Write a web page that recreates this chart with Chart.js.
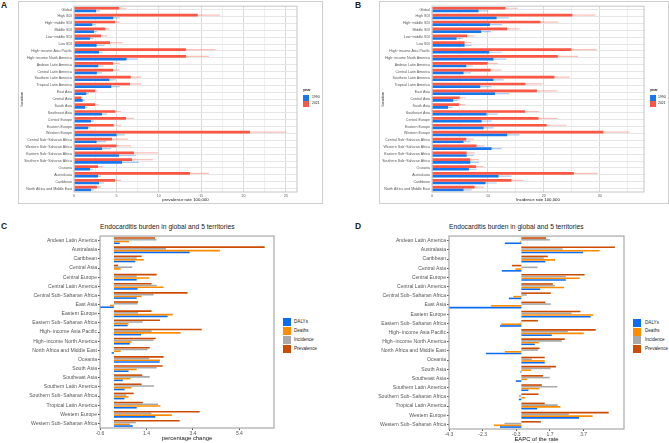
<!DOCTYPE html>
<html>
<head>
<meta charset="utf-8">
<title>Endocarditis burden</title>
<script src="https://cdn.jsdelivr.net/npm/chart.js@4"></script>
<style>
  html, body { margin: 0; padding: 0; background: #fff; }
  body { width: 669px; height: 443px; position: relative; overflow: hidden; font-family: "Liberation Sans", Arial, sans-serif; }
  canvas { position: absolute; }
  .frame { position: absolute; border: 1px solid #cfcfcf; box-sizing: border-box; }
  .txt { position: absolute; white-space: nowrap; line-height: 1; color: #222; }
  .swatch { position: absolute; }
</style>
</head>
<body>
<script>
// location lists
const sdiRegions = ['Global', 'High SDI', 'High\u2212middle SDI', 'Middle SDI', 'Low\u2212middle SDI', 'Low SDI',
  'High\u2212income Asia Pacific', 'High\u2212income North America', 'Andean Latin America', 'Central Latin America',
  'Southern Latin America', 'Tropical Latin America', 'East Asia', 'Central Asia', 'South Asia', 'Southeast Asia',
  'Central Europe', 'Eastern Europe', 'Western Europe', 'Central Sub\u2212Saharan Africa', 'Western Sub\u2212Saharan Africa',
  'Eastern Sub\u2212Saharan Africa', 'Southern Sub\u2212Saharan Africa', 'Oceania', 'Australasia', 'Caribbean',
  'North Africa and Middle East']
const territories = ['Andean Latin America', 'Australasia', 'Caribbean', 'Central Asia', 'Central Europe',
  'Central Latin America', 'Central Sub\u2212Saharan Africa', 'East Asia', 'Eastern Europe', 'Eastern Sub\u2212Saharan Africa',
  'High\u2212income Asia Pacific', 'High\u2212income North America', 'North Africa and Middle East', 'Oceania', 'South Asia',
  'Southeast Asia', 'Southern Latin America', 'Southern Sub\u2212Saharan Africa', 'Tropical Latin America', 'Western Europe',
  'Western Sub\u2212Saharan Africa']

// panel A, prevalence rate
const prev2021 = [5.35, 14.6, 4.83, 3.7, 3.18, 4.25, 13.2, 13.2, 4.6, 4.6, 6.7, 6.6, 2.48, 0.86, 2.48, 4.9, 6.13, 4.68, 20.75, 4.48, 5.03, 7.07, 6.84, 2.83, 13.68, 4.83, 2.71]
const prev2021Upper = [6.2, 17.2, 5.4, 4.25, 3.9, 5.74, 16.7, 15.9, 5.4, 5.4, 7.9, 7.9, 2.83, 1.0, 2.9, 5.54, 7.07, 5.54, 25.0, 6.37, 6.72, 9.9, 9.3, 3.42, 15.9, 5.54, 3.18]
const prev1990 = [2.6, 4.64, 2.16, 2.36, 1.89, 2.67, 2.95, 6.2, 2.87, 2.7, 4.17, 4.4, 1.45, 1.02, 1.3, 3.3, 2.0, 1.65, 5.03, 2.67, 3.3, 5.3, 5.66, 1.89, 2.83, 2.95, 2.0]
const prev1990Upper = [3.07, 5.4, 2.55, 2.75, 2.28, 3.6, 3.4, 7.5, 3.5, 3.3, 4.9, 5.4, 1.73, 1.26, 1.57, 3.9, 2.36, 1.93, 6.0, 3.77, 4.36, 7.3, 7.67, 2.24, 3.18, 3.54, 2.36]

// panel B, incidence rate
const inc2021 = [13.15, 25.1, 19.4, 13.45, 6.3, 5.83, 24.94, 22.5, 9.94, 10.5, 21.9, 16.7, 18.75, 4.94, 4.82, 16.67, 19.05, 20.5, 30.65, 6.13, 7.98, 6.2, 6.85, 7.86, 25.36, 14.2, 7.62]
const inc2021Upper = [15.36, 29.2, 22.6, 15.65, 7.56, 7.08, 29.4, 26.1, 11.8, 12.4, 24.6, 19.7, 22.44, 6.0, 5.95, 19.2, 22.44, 24.05, 35.3, 7.44, 9.4, 7.62, 8.33, 9.23, 29.6, 16.4, 9.23]
const inc1990 = [8.33, 11.55, 10.36, 8.8, 4.4, 5.83, 10.24, 11.0, 6.13, 5.65, 11.0, 8.63, 11.25, 3.8, 2.86, 9.76, 8.87, 9.23, 13.45, 5.65, 10.65, 6.2, 6.85, 6.6, 11.9, 9.58, 5.65]
const inc1990Upper = [10.1, 13.7, 12.5, 10.6, 5.48, 7.08, 12.44, 13.3, 7.3, 6.96, 12.8, 10.65, 13.8, 4.76, 3.7, 11.73, 10.65, 11.0, 15.65, 6.9, 12.44, 7.44, 8.4, 7.98, 14.2, 11.55, 7.08]

// panel C, percentage change
const pctPrevalence = [1.77, 6.49, 1.19, 0.18, 1.84, 1.62, 3.17, 1.04, 1.62, 1.98, 3.78, 1.8, 1.54, 2.14, 2.1, 1.22, 1.19, 0.85, 1.24, 3.69, 2.83]
const pctIncidence = [1.83, 2.24, 0.98, 0.79, 0.98, 1.84, 1.71, 1.02, 1.04, 1.24, 1.62, 1.7, 1.45, 1.52, 1.84, 1.54, 1.73, 0.53, 1.9, 1.61, 0.94]
const pctDeaths = [0.65, 4.57, 1.29, 0.29, 1.52, 2.14, 1.19, -0.17, 2.53, 0.63, 2.87, 0.76, 0.29, 1.98, 0.98, 0.71, 0.76, 0.63, 2.0, 2.49, 0.68]
const pctDalys = [0.25, 3.26, 0.92, 0, 0.98, 1.02, 0.98, -0.6, 2.31, 0.59, 1.17, 0.68, -0.1, 1.97, 0.63, 0.38, 0.46, 0.45, 0.98, 1.78, 0.81]

// panel D, EAPC
const eapcPrevalence = [1.47, 5.56, 1.57, -0.56, 3.76, 1.87, 1.75, 1.43, 3.51, 0.98, 4.42, 2.58, 1.08, 1.39, 2.05, 1.29, 1.22, 1.02, 1.39, 5.19, 1.16]
const eapcIncidence = [1.69, 2.46, 1.33, 0.96, 2.64, 1.99, 0.33, 1.75, 2.99, -0.05, 2.76, 2.4, 1.0, 0.62, 1.75, 1.69, 2.14, -0.15, 2.16, 2.82, -1.0]
const eapcDeaths = [-0.07, 4.65, 2.0, -0.35, 3.47, 2.54, -0.48, -1.81, 4.28, -1.2, 3.71, 1.04, -0.98, 1.39, 0.58, 0.33, 1.08, 0.21, 2.32, 4.24, -1.63]
const eapcDalys = [-0.98, 3.67, 1.43, -1.16, 2.64, 1.12, -0.74, -4.3, 4.12, -1.27, 1.81, 0.8, -2.1, 1.39, -0.05, -0.33, 0.42, -0.15, 0.94, 3.43, -1.27]

// tick labels
const prevTicks = [0, 2.5, 5, 7.5, 10, 12.5, 15, 17.5, 20, 22.5, 25]
const prevLabelled = [0, 5, 10, 15, 20, 25]
const incTicks = [0, 5, 10, 15, 20, 25, 30, 35]
const incLabelled = [0, 10, 20, 30]
const pctTicks = [-0.6, 1.4, 3.4, 5.4]
const eapcTicks = [-4.3, -2.3, -0.3, 1.7, 3.7]

const yearNames = ['1990', '2021']
const burdenNames = ['DALYs', 'Deaths', 'Incidence', 'Prevalence']

const FONT = '"Liberation Sans", Arial, sans-serif'
const BLUE = '#1677ee'
const RED = '#fb5744'
const burdenColors = ['#0a6cf0', '#ff8c00', '#a9a9a9', '#cc4c02']

Chart.defaults.font.family = FONT
Chart.defaults.animation = false

const boxPlugin = {
  id: 'plotBox',
  afterDraw(chart, args, opts) {
    const a = chart.chartArea
    const ctx = chart.ctx
    ctx.save()
    ctx.strokeStyle = opts.color
    ctx.lineWidth = opts.width
    ctx.strokeRect(a.left, a.top, a.right - a.left, a.bottom - a.top)
    ctx.restore()
  }
}
Chart.register(boxPlugin)

function addCanvas(box) {
  const c = document.createElement('canvas')
  c.style.left = box.x + 'px'
  c.style.top = box.y + 'px'
  c.style.width = box.w + 'px'
  c.style.height = box.h + 'px'
  c.width = box.w
  c.height = box.h
  document.body.appendChild(c)
  return c.getContext('2d')
}

function addText(s, x, y, size, opts) {
  const d = document.createElement('div')
  d.className = 'txt'
  d.textContent = s
  d.style.left = x + 'px'
  d.style.top = y + 'px'
  d.style.fontSize = size + 'px'
  if (opts && opts.bold) d.style.fontWeight = 'bold'
  document.body.appendChild(d)
}

function addSwatch(x, y, w, h, color) {
  const d = document.createElement('div')
  d.className = 'swatch'
  d.style.cssText = `left:${x}px;top:${y}px;width:${w}px;height:${h}px;background:${color}`
  document.body.appendChild(d)
}

function addFrame(x, y, w, h) {
  const d = document.createElement('div')
  d.className = 'frame'
  d.style.cssText = `left:${x}px;top:${y}px;width:${w}px;height:${h}px`
  document.body.appendChild(d)
}

// panels A and B: rate by year with pale upper interval
function rateChart(box, cfg) {
  const pale = (vals, upper) => vals.map((v, i) => [v, upper[i]])
  new Chart(addCanvas(box), {
    type: 'bar',
    data: {
      labels: sdiRegions,
      datasets: [
        { data: cfg.val2021, backgroundColor: RED, stack: 'y2021', categoryPercentage: 0.78, barPercentage: 1 },
        { data: pale(cfg.val2021, cfg.up2021), backgroundColor: 'rgba(251,87,68,0.38)', stack: 'y2021', categoryPercentage: 0.78, barPercentage: 0.45 },
        { data: cfg.val1990, backgroundColor: BLUE, stack: 'y1990', categoryPercentage: 0.78, barPercentage: 1 },
        { data: pale(cfg.val1990, cfg.up1990), backgroundColor: 'rgba(22,119,238,0.38)', stack: 'y1990', categoryPercentage: 0.78, barPercentage: 0.45 }
      ]
    },
    options: {
      indexAxis: 'y',
      responsive: false,
      layout: { padding: cfg.padding },
      plugins: { legend: { display: false }, tooltip: { enabled: false }, plotBox: { color: '#c4c4c4', width: 1 } },
      scales: {
        x: {
          stacked: false,
          min: 0,
          max: cfg.max,
          afterBuildTicks: s => { s.ticks = cfg.ticks.map(v => ({ value: v })) },
          afterFit: s => { s.height = cfg.xHeight },
          grid: {
            color: c => cfg.labelled.includes(c.tick.value) ? '#d9d9d9' : '#efefef',
            drawTicks: false
          },
          border: { display: false },
          ticks: {
            autoSkip: false, maxRotation: 0, padding: 2, color: '#555',
            font: { size: 3.6 },
            callback: v => cfg.labelled.includes(v) ? String(v) : ''
          },
          title: { display: true, text: cfg.xTitle, color: '#111', font: { size: 4.3 }, padding: 0 }
        },
        y: {
          stacked: true,
          afterFit: s => { s.width = cfg.yWidth },
          grid: { offset: false, color: '#e6e6e6', drawTicks: false },
          border: { display: false },
          ticks: { autoSkip: false, padding: 2, color: '#555', font: { size: 3.6 } },
          title: { display: true, text: 'location', color: '#222', font: { size: 4.3 }, padding: 0 }
        }
      }
    }
  })
}

// panels C and D: four measures per territory
function burdenChart(box, cfg) {
  new Chart(addCanvas(box), {
    type: 'bar',
    data: {
      labels: territories,
      datasets: [
        { label: 'Prevalence', data: cfg.prevalence, backgroundColor: burdenColors[3] },
        { label: 'Incidence', data: cfg.incidence, backgroundColor: burdenColors[2] },
        { label: 'Deaths', data: cfg.deaths, backgroundColor: burdenColors[1] },
        { label: 'DALYs', data: cfg.dalys, backgroundColor: burdenColors[0] }
      ]
    },
    options: {
      indexAxis: 'y',
      responsive: false,
      layout: { padding: cfg.padding },
      datasets: { bar: { categoryPercentage: 0.76, barPercentage: 0.92 } },
      plugins: { legend: { display: false }, tooltip: { enabled: false }, plotBox: { color: '#a8a8a8', width: 1.2 } },
      scales: {
        x: {
          min: cfg.min,
          max: cfg.max,
          afterBuildTicks: s => { s.ticks = cfg.ticks.map(v => ({ value: v })) },
          afterFit: s => { s.height = cfg.xHeight },
          grid: { drawOnChartArea: false, tickLength: 2, color: '#555' },
          border: { display: false },
          ticks: { autoSkip: false, maxRotation: 0, padding: 1, color: '#555', font: { size: 5 } },
          title: { display: true, text: cfg.xTitle, color: '#111', font: { size: 5.9 }, padding: 0 }
        },
        y: {
          afterFit: s => { s.width = cfg.yWidth },
          grid: { drawOnChartArea: false, tickLength: 2, color: '#555', offset: false },
          border: { display: false },
          ticks: { autoSkip: false, padding: 1, color: '#555', font: { size: 5.1 } }
        }
      }
    }
  })
}

addFrame(18, 1, 305, 203)
addFrame(379, 1, 290, 203)

rateChart({ x: 19, y: 2, w: 303, h: 201 }, {
  val2021: prev2021, up2021: prev2021Upper, val1990: prev1990, up1990: prev1990Upper,
  max: 26.3, ticks: prevTicks, labelled: prevLabelled, xTitle: 'prevalence rate 100,000',
  padding: { top: 2, right: 25, left: 0, bottom: 1 }, xHeight: 10, yWidth: 55
})
rateChart({ x: 380, y: 2, w: 288, h: 201 }, {
  val2021: inc2021, up2021: inc2021Upper, val1990: inc1990, up1990: inc1990Upper,
  max: 37.9, ticks: incTicks, labelled: incLabelled, xTitle: 'Incidence rate 100,000',
  padding: { top: 2, right: 24, left: 0, bottom: 1 }, xHeight: 10, yWidth: 52
})
burdenChart({ x: 0, y: 232, w: 278, h: 211 }, {
  prevalence: pctPrevalence, incidence: pctIncidence, deaths: pctDeaths, dalys: pctDalys,
  min: -0.6, max: 6.89, ticks: pctTicks, xTitle: 'percentage change',
  padding: { top: 3, right: 4, left: 0, bottom: 1 }, xHeight: 14, yWidth: 100
})
burdenChart({ x: 340, y: 232, w: 288, h: 211 }, {
  prevalence: eapcPrevalence, incidence: eapcIncidence, deaths: eapcDeaths, dalys: eapcDalys,
  min: -4.3, max: 6.1, ticks: eapcTicks, xTitle: 'EAPC of the rate',
  padding: { top: 3, right: 4, left: 0, bottom: 0 }, xHeight: 14, yWidth: 109
})

// panel letters and titles
addText('A', 1, 1, 8.5, { bold: true })
addText('B', 355, 1, 8.5, { bold: true })
addText('C', 1, 222, 8.5, { bold: true })
addText('D', 355, 222, 8.5, { bold: true })
addText('Endocarditis burden in global and 5 territories', 100, 223.5, 6.7)
addText('Endocarditis burden in global and 5 territories', 449, 223.5, 6.7)

// legends
function yearLegend(x, textX) {
  addText('year', x, 88.5, 3.8, { bold: true })
  addSwatch(x, 95, 5.5, 5.5, BLUE)
  addSwatch(x, 101, 5.5, 5.5, RED)
  addText(yearNames[0], textX, 96, 3.4)
  addText(yearNames[1], textX, 102, 3.4)
}
yearLegend(303, 312)
yearLegend(650, 658)

function burdenLegend(x, textX, ys) {
  burdenNames.forEach((name, i) => {
    addSwatch(x, ys[i] - 4, 8, 8, burdenColors[i])
    addText(name, textX, ys[i] - 2.2, 4.6)
  })
}
burdenLegend(283, 294, [321.7, 330.7, 339.7, 348.7])
burdenLegend(633, 645, [322.7, 331.5, 340.4, 349.3])
</script>
</body>
</html>
